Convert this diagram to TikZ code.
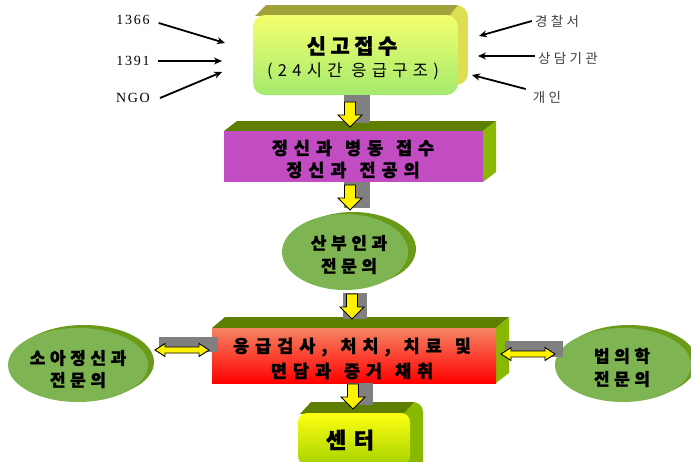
\documentclass[tikz,border=0pt]{standalone}
\usepackage{fontspec}
\setmainfont{Liberation Serif}
\newfontfamily\numf[LetterSpace=12]{Liberation Serif}
\newfontfamily\krA[LetterSpace=21,BoldFeatures={FakeBold=1.2}]{Noto Sans CJK KR}
\newfontfamily\krT[LetterSpace=32]{Noto Sans CJK KR}
\newfontfamily\krE[LetterSpace=27,BoldFeatures={FakeBold=1.2}]{Noto Sans CJK KR}
\newfontfamily\krB[LetterSpace=34,BoldFeatures={FakeBold=1.2}]{Noto Sans CJK KR}
\newfontfamily\krC[LetterSpace=34,BoldFeatures={FakeBold=1.2}]{Noto Sans CJK KR}
\newfontfamily\krL[LetterSpace=25]{Noto Sans CJK KR}
\newcommand\wsp{\hspace{3pt} }
\usetikzlibrary{shapes.geometric,arrows.meta}
\definecolor{tyel}{HTML}{F4FF6E}
\definecolor{tgrn}{HTML}{A4EA6E}
\definecolor{ttop}{HTML}{A2A23C}
\definecolor{tside}{HTML}{DEDE52}
\definecolor{olv}{HTML}{5E7E00}
\definecolor{lgr}{HTML}{88B800}
\definecolor{purp}{HTML}{C24CC2}
\definecolor{ellc}{HTML}{7FB452}
\definecolor{ellsh}{HTML}{6A9A18}
\definecolor{salm}{HTML}{F58462}
\definecolor{cyel}{HTML}{FFFF10}
\definecolor{cgrn}{HTML}{A6D200}
\definecolor{gbar}{HTML}{808080}
\tikzset{
  numlab/.style={font=\numf\fontsize{14}{14}\selectfont, inner sep=0pt},
  krlab/.style={font=\krL\fontsize{13.5}{13.5}\selectfont, text=black!75, inner sep=0pt},
  inarr/.style={line width=1.8pt, -{Stealth[length=8pt,width=7pt]}},
  bar/.style={fill=gbar, draw=none},
  blk/.style={fill=yellow, draw=black, line width=0.9pt, line join=miter},
  downblk/.pic={\path[blk] (-5.5,-13) -- (5.5,-13) -- (5.5,0) -- (12,0) -- (0,12)
      -- (-12,0) -- (-5.5,0) -- cycle;},
  lrblk/.pic={\path[blk] (-27,0) -- (-17,-6.5) -- (-17,-3) -- (17,-3) -- (17,-6.5)
      -- (27,0) -- (17,6.5) -- (17,3) -- (-17,3) -- (-17,6.5) -- cycle;},
  face/.style={rectangle, draw=none, inner sep=0pt},
  ellnode/.style={ellipse, fill=ellc, draw=none, inner sep=0pt},
  ttl/.style={inner sep=0pt, text=black},
  etxt/.style={ttl, font=\krE\bfseries\fontsize{17}{17}\selectfont},
  btxt/.style={ttl, font=\krB\bfseries\fontsize{17.5}{17.5}\selectfont},
  rtxt/.style={ttl, font=\krC\bfseries\fontsize{17.5}{17.5}\selectfont},
}
\begin{document}
\begin{tikzpicture}[x=1pt,y=-1pt]
\useasboundingbox (0,0) rectangle (691,461);
% ---------- top box ----------
\fill[tside, rounded corners=12pt] (263,5) rectangle (468,85);
\fill[ttop] (255,16) -- (266,5) -- (458,5) -- (450,15) -- cycle;
\node[face, rounded corners=12pt, top color=tyel, bottom color=tgrn,
  minimum width=205pt, minimum height=80pt] (top) at (355.5,55) {};
\node[ttl, font=\krA\bfseries\fontsize{21}{21}\selectfont] (topt1) at (352,46) {신고접수};
\node[ttl, font=\krT\fontsize{16.5}{16.5}\selectfont] (topt2) at (353,71) {(24시간 응급구조)};
% left labels
\node[numlab] (l1366) at (133,20) {1366};
\node[numlab] (l1391) at (133,61) {1391};
\node[numlab] (lngo) at (133,98) {NGO};
\coordinate (e1) at (225,43);
\coordinate (e2) at (222,61);
\coordinate (e3) at (222,72);
\draw[inarr] ([yshift=-3pt]l1366.east) ++(9pt,0) -- (e1);
\draw[inarr] (l1391.east) ++(8pt,0) -- (e2);
\draw[inarr] (lngo.east) ++(10pt,0) -- (e3);
% right labels
\node[krlab] (rpol) at (557,21) {경찰서};
\node[krlab] (rcou) at (568,58) {상담기관};
\node[krlab] (rind) at (547,97) {개인};
\coordinate (f1) at (479,36);
\coordinate (f2) at (478,56);
\coordinate (f3) at (472,75);
\draw[inarr] (rpol.west) ++(-3pt,0) -- (f1);
\draw[inarr] (rcou.west) ++(-3pt,2pt) -- (f2);
\draw[inarr] (rind.west) ++(-7pt,8pt) -- (f3);
% ---------- purple box ----------
\fill[olv] (224,131) -- (237,121) -- (496,121) -- (483,131) -- cycle;
\fill[lgr] (483,131) -- (496,121) -- (496,172) -- (483,182) -- cycle;
\node[face, fill=purp, minimum width=259pt, minimum height=51pt] (psy) at (353.5,156.5) {};
\node[btxt] (psyt1) at (353,148) {정신과\wsp 병동\wsp 접수};
\node[btxt] (psyt2) at (353,170) {정신과\wsp 전공의};
% ---------- ellipse OBGYN ----------
\fill[ellsh] (353,249) ellipse [x radius=63, y radius=37];
\node[ellnode, minimum width=126pt, minimum height=76pt] (obgyn) at (345,252) {};
\node[etxt] (obt1) at (349,243) {산부인과};
\node[etxt] (obt2) at (349,266) {전문의};
% ---------- red box ----------
\fill[olv] (212,328) -- (225,317) -- (509,317) -- (496,328) -- cycle;
\fill[lgr] (496,328) -- (509,317) -- (509,373) -- (496,383) -- cycle;
\node[face, top color=salm, bottom color=red, minimum width=284pt, minimum height=55pt] (emer) at (354,355.5) {};
\node[rtxt] (emt1) at (352,347) {응급검사,\wsp 처치,\wsp 치료\wsp 및};
\node[rtxt] (emt2) at (352,371) {면담과\wsp 증거\wsp 채취};
% ---------- side ellipses ----------
\fill[ellsh] (84,362) ellipse [x radius=70, y radius=37];
\node[ellnode, minimum width=140pt, minimum height=74pt] (child) at (78,365) {};
\node[etxt] (cht1) at (78,358) {소아정신과};
\node[etxt] (cht2) at (78,380) {전문의};
\fill[ellsh] (629,362) ellipse [x radius=68, y radius=37];
\node[ellnode, minimum width=136pt, minimum height=74pt] (forens) at (623,365) {};
\node[etxt] (frt1) at (622,356) {법의학};
\node[etxt] (frt2) at (622,379) {전문의};
% ---------- center box ----------
\fill[lgr, rounded corners=10pt] (309,402) rectangle (423,475);
\fill[olv] (300,414) -- (311,402) -- (414,402) -- (404,413) -- cycle;
\node[face, rounded corners=9pt, top color=cyel, bottom color=cgrn,
  minimum width=112pt, minimum height=52pt] (center) at (354,439) {};
\node[ttl, font=\krC\bfseries\fontsize{22}{22}\selectfont] (cnt) at (350,440) {센터};
% ---------- gray bars ----------
\fill[bar] (344,95) rectangle (370,123);
\fill[bar] (344,182) rectangle (370,208);
\fill[bar] (343,293) rectangle (367,319);
\fill[bar] (347,383) rectangle (373,405);
\fill[bar] (159,337) rectangle (218,352);
\fill[bar] (505,341) rectangle (563,357);
% ---------- yellow arrows ----------
\pic (a1) at (350,115) {downblk};
\pic (a2) at (350,198) {downblk};
\pic (a3) at (352,307) {downblk};
\pic (a4) at (353,397) {downblk};
\pic (dl) at (182,350) {lrblk};
\pic (dr) at (528,354) {lrblk};
\end{tikzpicture}
\end{document}
